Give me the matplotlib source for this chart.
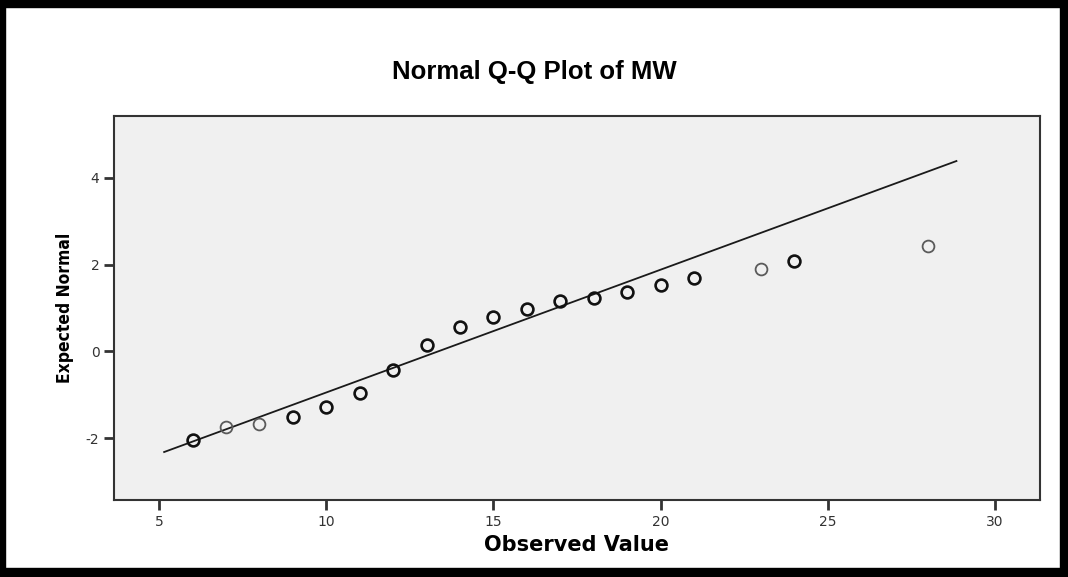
import numpy as np
import matplotlib
matplotlib.use("Agg")
import matplotlib.pyplot as plt
from matplotlib.patches import Rectangle

plt.rcParams["axes.unicode_minus"] = False

# -------- DATA --------
observed = [6, 7, 8, 9, 10, 11, 12, 13, 14, 15, 16, 17, 18, 19, 20, 21, 23, 24, 28]
expected = [-2.05, -1.75, -1.68, -1.52, -1.29, -0.97, -0.44, 0.14, 0.57, 0.80,
            0.97, 1.15, 1.24, 1.38, 1.54, 1.70, 1.89, 2.09, 2.44]
# darker rings where several cases overlap
dark = [1, 0, 0, 1, 1, 1, 1, 1, 1, 1, 1, 1, 1, 1, 1, 1, 0, 1, 0]

line_x = [5.15, 28.85]
mean_mw = 13.35
sd_mw = 3.53

x_ticks = [5, 10, 15, 20, 25, 30]
y_ticks = [-2, 0, 2, 4]

# -------- FIGURE --------
fig = plt.figure(figsize=(10.68, 5.77), dpi=100)
ax = fig.add_axes([114 / 1068, 1 - 500 / 577, (1040 - 114) / 1068, (500 - 116) / 577])
ax.set_facecolor("#f0f0f0")

lx = np.array(line_x)
ax.plot(lx, (lx - mean_mw) / sd_mw, color="#1a1a1a", lw=1.3)

for x, y, d in zip(observed, expected, dark):
    ax.plot(x, y, "o", mfc="none", ms=8.5,
            mec="#111111" if d else "#5a5a5a", mew=1.9 if d else 1.3)

ax.set_xlim(3.65, 31.35)
ax.set_ylim(-3.43, 5.43)
ax.set_xticks(x_ticks)
ax.set_yticks(y_ticks)

for s in ax.spines.values():
    s.set_color("#333333")
    s.set_linewidth(1.5)
ax.tick_params(direction="out", length=7, width=2, color="#333333",
               labelsize=10, labelcolor="#333333")
for lab in ax.get_xticklabels() + ax.get_yticklabels():
    lab.set_family("DejaVu Sans")

fig.text(534 / 1068, 1 - 72 / 577, "Normal Q-Q Plot of MW", ha="center", va="center",
         fontsize=18.5, fontweight="bold", family="Liberation Sans")
fig.text(576 / 1068, 1 - 545 / 577, "Observed Value", ha="center", va="center",
         fontsize=15, fontweight="bold", family="DejaVu Sans")
fig.text(65 / 1068, 1 - 308 / 577, "Expected Normal", ha="center", va="center",
         rotation=90, fontsize=12.5, fontweight="bold", fontstretch="condensed",
         family="DejaVu Sans")

# black frame around the picture
W, H = 1068, 577
for x0, y0, w, h in [(0, 0, W, 9), (0, H - 7, W, 7), (0, 0, 5, H), (W - 8, 0, 8, H)]:
    fig.patches.append(Rectangle((x0 / W, y0 / H), w / W, h / H,
                                 transform=fig.transFigure, color="black", zorder=10))

fig.savefig("out.png", dpi=100)
